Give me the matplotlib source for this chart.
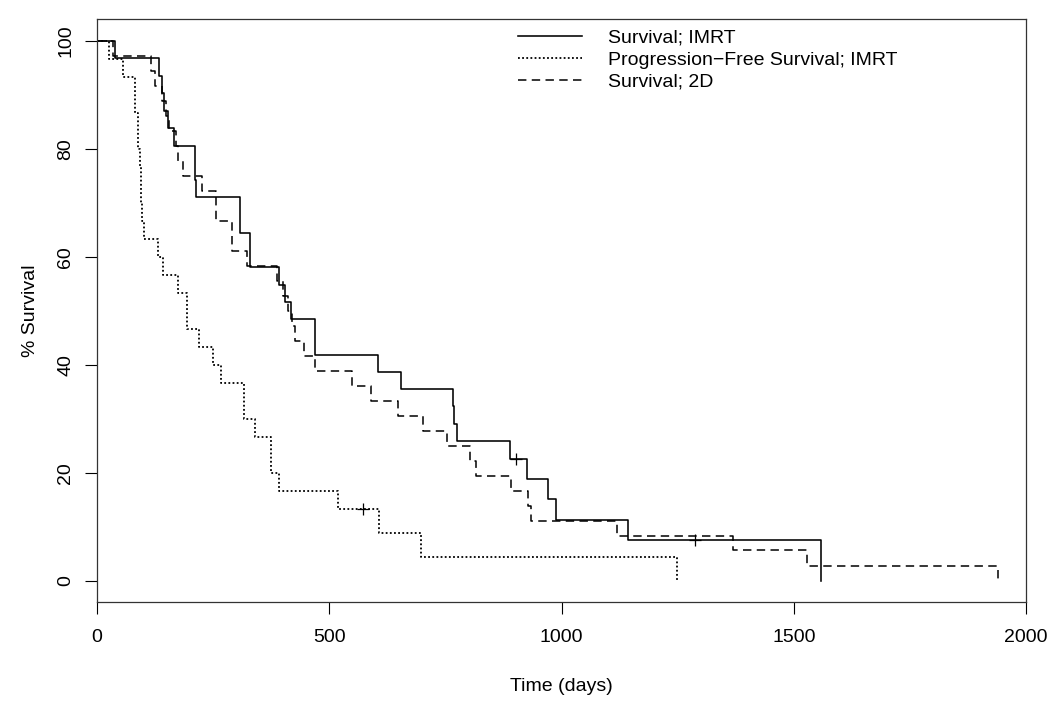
import matplotlib
matplotlib.use("Agg")
import matplotlib.pyplot as plt

plt.rcParams['font.family'] = ['Liberation Sans', 'DejaVu Sans']

# Kaplan-Meier step data (days, % surviving)
os_imrt_days = [0, 39, 133, 140, 145, 152, 165, 210, 212, 214, 307, 329, 392, 405,
                418, 469, 606, 654, 766, 769, 775, 890, 925, 970, 988, 1144, 1558]
os_imrt_pct = [100, 96.8, 93.5, 90.3, 87.1, 83.9, 80.6, 77.4, 74.2, 71.0, 64.5, 58.1,
               54.8, 51.6, 48.4, 41.9, 38.7, 35.5, 32.3, 29.0, 25.8, 22.6, 18.8, 15.1,
               11.3, 7.5, 0]
os_imrt_cens_days = [903, 1287]
os_imrt_cens_pct = [22.6, 7.5]

pfs_imrt_days = [0, 26, 55, 82, 89, 92, 94, 97, 101, 132, 143, 175, 193, 220, 250,
                 266, 317, 340, 374, 392, 518, 607, 697, 1248]
pfs_imrt_pct = [100, 96.7, 93.3, 86.7, 80.0, 76.7, 70.0, 66.7, 63.3, 60.0, 56.7, 53.3,
                46.7, 43.3, 40.0, 36.7, 30.0, 26.7, 20.0, 16.7, 13.3, 8.9, 4.4, 0]
pfs_imrt_cens_days = [573]
pfs_imrt_cens_pct = [13.3]

os_2d_days = [0, 35, 116, 125, 140, 148, 155, 171, 175, 186, 227, 256, 290, 324, 388,
              400, 412, 420, 426, 446, 470, 548, 590, 648, 701, 753, 803, 815, 891,
              927, 934, 1119, 1370, 1528, 1940]
os_2d_pct = [100, 97.2, 94.4, 91.7, 88.9, 86.1, 83.3, 80.6, 77.8, 75.0, 72.2, 66.7,
             61.1, 58.3, 55.6, 52.8, 50.0, 47.2, 44.4, 41.7, 38.9, 36.1, 33.3, 30.6,
             27.8, 25.0, 22.2, 19.4, 16.7, 13.9, 11.1, 8.3, 5.6, 2.8, 0]

labels = ["Survival; IMRT", "Progression\u2212Free Survival; IMRT", "Survival; 2D"]

fig = plt.figure(figsize=(10.5, 7.05), dpi=100)
ax = fig.add_axes([97 / 1050, 1 - 602.3 / 705, (1026 - 97) / 1050, 583 / 705])

ax.step(os_imrt_days, os_imrt_pct, where='post', color='black', lw=1.15,
        label=labels[0])
ax.step(pfs_imrt_days, pfs_imrt_pct, where='post', color='black', lw=1.3,
        linestyle=(0, (1, 1.3)), label=labels[1])
ax.step(os_2d_days, os_2d_pct, where='post', color='black', lw=1.1,
        linestyle=(0, (5.5, 3.5)), label=labels[2])

# censoring ticks
ax.plot(os_imrt_cens_days, os_imrt_cens_pct, '+', color='black', ms=9, mew=0.9)
ax.plot(pfs_imrt_cens_days, pfs_imrt_cens_pct, '+', color='black', ms=9, mew=0.9)

ax.set_xlim(0, 2000)
ax.set_ylim(-4, 104)
ax.set_xticks([0, 500, 1000, 1500, 2000])
ax.set_yticks([0, 20, 40, 60, 80, 100])
ax.tick_params(direction='out', length=8.3, width=0.8, labelsize=14)
ax.tick_params(axis='x', pad=10.8)
ax.tick_params(axis='y', pad=8)
for lab in ax.get_yticklabels():
    lab.set_rotation(90)
    lab.set_verticalalignment('center')
for sp in ax.spines.values():
    sp.set_linewidth(0.9)
    sp.set_color('#333333')

ax.set_xlabel("Time (days)", fontsize=14, labelpad=23.5)
ax.set_ylabel("% Survival", fontsize=14, labelpad=13)

ax.legend(loc='upper left', bbox_to_anchor=(0.453, 0.983), frameon=False,
          fontsize=14, handlelength=3.3, handletextpad=1.35, labelspacing=0.22,
          borderaxespad=0, borderpad=0)

fig.savefig("out.png", dpi=100)
